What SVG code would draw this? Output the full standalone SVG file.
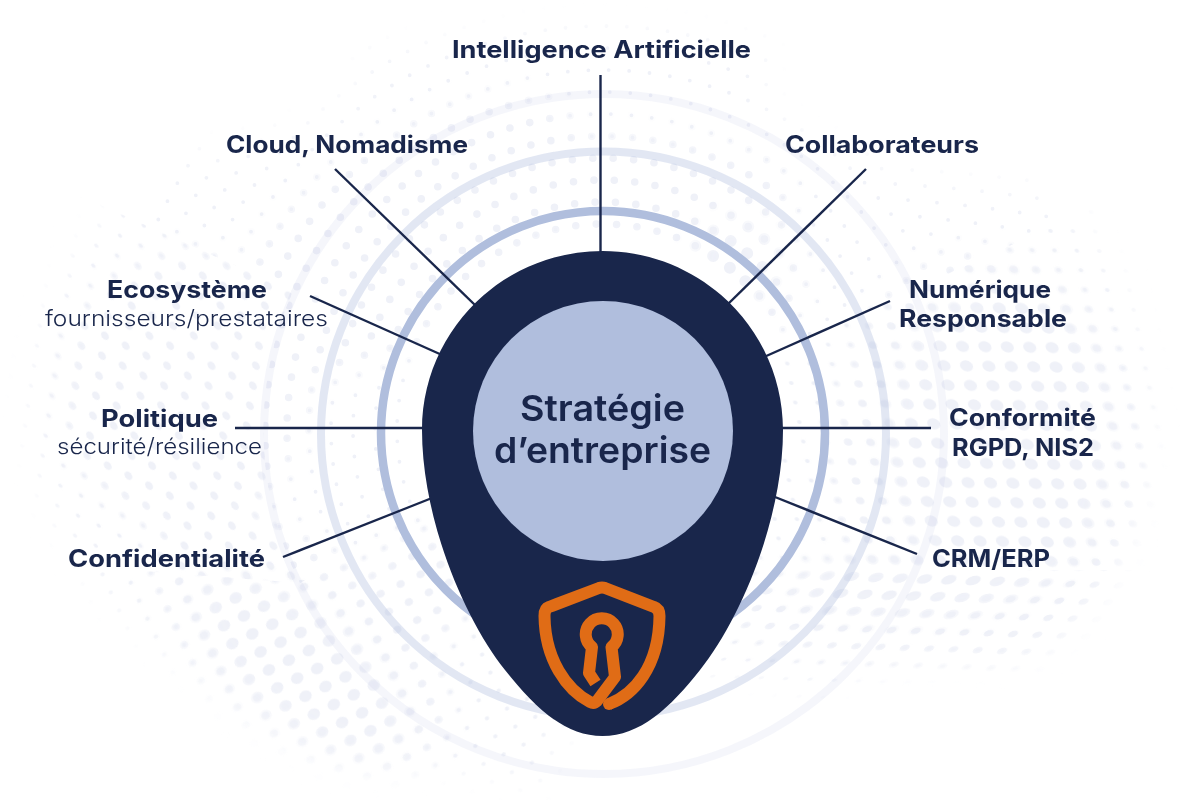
<svg xmlns="http://www.w3.org/2000/svg" width="1200" height="800" viewBox="0 0 1200 800">
<style>
.t{font-family:"Inter","Liberation Sans",sans-serif;fill:#19264b}
.b{font-size:24px;font-weight:700}
.r{font-size:22px;font-weight:300}
.h{font-size:36px;font-weight:600}
.ln{stroke:#19264b;stroke-width:2.4;fill:none}
.dr{fill:none;stroke:#eff1f8;stroke-linecap:round;stroke-dasharray:0 20.5}
.d{fill:#eff1f8}
</style>
<defs>
<pattern id="a" patternUnits="userSpaceOnUse" width="100" height="100" patternTransform="matrix(.224 .003 .04 .195 886.1 355.1)"/>
<pattern id="b" patternUnits="userSpaceOnUse" width="100" height="100" patternTransform="matrix(.207 .1 -.03 .2 72.45 330.7)"/>
<pattern id="c" patternUnits="userSpaceOnUse" width="100" height="100" patternTransform="matrix(.2 -.097 .083 .18 161.55 622.85)"/>
<pattern id="e" patternUnits="userSpaceOnUse" width="100" height="100" patternTransform="matrix(.243 .008 -.11 .17 807.35 549.1)"/>
<pattern id="as" href="#a"><circle class="d" cx="50" cy="50" r="10"/></pattern>
<pattern id="am" href="#a"><circle class="d" cx="50" cy="50" r="19"/></pattern>
<pattern id="al" href="#a"><circle class="d" cx="50" cy="50" r="29"/></pattern>
<pattern id="bs" href="#b"><circle class="d" cx="50" cy="50" r="10"/></pattern>
<pattern id="bm" href="#b"><circle class="d" cx="50" cy="50" r="19"/></pattern>
<pattern id="bl" href="#b"><circle class="d" cx="50" cy="50" r="29"/></pattern>
<pattern id="cs" href="#c"><circle class="d" cx="50" cy="50" r="10"/></pattern>
<pattern id="cm" href="#c"><circle class="d" cx="50" cy="50" r="19"/></pattern>
<pattern id="cl" href="#c"><circle class="d" cx="50" cy="50" r="29"/></pattern>
<pattern id="es" href="#e"><circle class="d" cx="50" cy="50" r="10"/></pattern>
<pattern id="em" href="#e"><circle class="d" cx="50" cy="50" r="19"/></pattern>
<pattern id="el" href="#e"><circle class="d" cx="50" cy="50" r="29"/></pattern>
<clipPath id="cRing"><polygon points="603,430 1100,205 1100,-50 0,-50 0,160"/><path d="M603 430L293 291A340 340 0 0 0 300 583Z"/></clipPath>
<clipPath id="cA"><polygon points="603,430 1100,205 1200,205 1200,570 603,570"/></clipPath>
<clipPath id="cB"><path d="M0 160L293 291A340 340 0 0 0 300 583L0 560Z"/></clipPath>
<clipPath id="cC"><polygon points="603,430 300,583 0,560 0,800 603,800"/></clipPath>
<clipPath id="cE"><polygon points="603,570 1200,570 1200,800 603,800"/></clipPath>
<filter id="bl1" x="-30%" y="-30%" width="160%" height="160%"><feGaussianBlur stdDeviation="14"/></filter>
<mask id="mS" maskUnits="userSpaceOnUse" x="0" y="0" width="1200" height="800">
<g filter="url(#bl1)"><ellipse cx="590" cy="405" rx="560" ry="375" fill="#fff"/><ellipse cx="1010" cy="760" rx="300" ry="115" fill="#000"/><ellipse cx="720" cy="790" rx="190" ry="130" fill="#000"/><ellipse cx="1050" cy="80" rx="300" ry="120" fill="#000"/><ellipse cx="120" cy="60" rx="260" ry="110" fill="#000"/></g>
</mask>
<mask id="mM" maskUnits="userSpaceOnUse" x="0" y="0" width="1200" height="800">
<g filter="url(#bl1)" fill="#fff"><ellipse cx="985" cy="455" rx="155" ry="205"/><ellipse cx="890" cy="610" rx="170" ry="50"/><ellipse cx="300" cy="640" rx="175" ry="90" transform="rotate(38 300 640)"/><ellipse cx="185" cy="390" rx="125" ry="140"/><ellipse cx="400" cy="240" rx="210" ry="95" transform="rotate(-35 400 240)"/><ellipse cx="620" cy="190" rx="170" ry="55"/><ellipse cx="730" cy="270" rx="75" ry="75"/><ellipse cx="420" cy="590" rx="50" ry="60"/></g>
</mask>
<mask id="mL" maskUnits="userSpaceOnUse" x="0" y="0" width="1200" height="800">
<g filter="url(#bl1)" fill="#fff"><ellipse cx="1000" cy="440" rx="110" ry="160"/><ellipse cx="900" cy="590" rx="110" ry="30"/><ellipse cx="300" cy="665" rx="125" ry="55" transform="rotate(38 300 665)"/><ellipse cx="735" cy="262" rx="42" ry="42"/></g>
</mask>
<g id="rg">
<circle cx="603" cy="430" r="206"/><circle cx="603" cy="430" r="228"/><circle cx="603" cy="430" r="250"/><circle cx="603" cy="430" r="272"/><circle cx="603" cy="430" r="294"/><circle cx="603" cy="430" r="316"/><circle cx="603" cy="430" r="338"/><circle cx="603" cy="430" r="360"/><circle cx="603" cy="430" r="382"/><circle cx="603" cy="430" r="404"/><circle cx="603" cy="430" r="426"/><circle cx="603" cy="430" r="448"/><circle cx="603" cy="430" r="470"/><circle cx="603" cy="430" r="492"/>
</g>
</defs>
<rect width="1200" height="800" fill="#fff"/>
<g id="halftone">
<g mask="url(#mS)">
<g class="dr" stroke-width="3.8" clip-path="url(#cRing)"><use href="#rg"/></g>
<rect width="1200" height="800" fill="url(#as)" clip-path="url(#cA)"/>
<rect width="1200" height="800" fill="url(#bs)" clip-path="url(#cB)"/>
<rect width="1200" height="800" fill="url(#cs)" clip-path="url(#cC)"/>
<rect width="1200" height="800" fill="url(#es)" clip-path="url(#cE)"/>
</g>
<g mask="url(#mM)">
<g class="dr" stroke-width="7.6" clip-path="url(#cRing)"><use href="#rg"/></g>
<rect width="1200" height="800" fill="url(#am)" clip-path="url(#cA)"/>
<rect width="1200" height="800" fill="url(#bm)" clip-path="url(#cB)"/>
<rect width="1200" height="800" fill="url(#cm)" clip-path="url(#cC)"/>
<rect width="1200" height="800" fill="url(#em)" clip-path="url(#cE)"/>
</g>
<g mask="url(#mL)">
<g class="dr" stroke-width="12" clip-path="url(#cRing)"><use href="#rg"/></g>
<rect width="1200" height="800" fill="url(#al)" clip-path="url(#cA)"/>
<rect width="1200" height="800" fill="url(#bl)" clip-path="url(#cB)"/>
<rect width="1200" height="800" fill="url(#cl)" clip-path="url(#cC)"/>
<rect width="1200" height="800" fill="url(#el)" clip-path="url(#cE)"/>
</g>
</g>
<g id="rings" fill="none" stroke-width="8">
<circle cx="604" cy="434" r="340" stroke="#aebcdd" stroke-opacity=".13"/>
<circle cx="603.5" cy="434" r="282.5" stroke="#aebcdd" stroke-opacity=".36"/>
<circle cx="603" cy="433" r="222" stroke="#b0bedd" stroke-width="8.5"/>
</g>
<g id="connectors">
<path class="ln" d="M600.5 75V255"/>
<path class="ln" d="M335 169L476 306"/>
<path class="ln" d="M866 169L727 305"/>
<path class="ln" d="M310 296L442 355"/>
<path class="ln" d="M890 301L764 357"/>
<path class="ln" d="M235 428H426"/>
<path class="ln" d="M931 428H780"/>
<path class="ln" d="M283 557L432 498"/>
<path class="ln" d="M917 554L775 497"/>
</g>
<g id="pin">
<path fill="#19264b" d="M602.5 251C503 251 422 331 422 430C422 520 465 620 505 670C535 708 565 736 602.5 736C640 736 670 708 700 670C740 620 783 520 783 430C783 331 702 251 602.5 251Z"/>
<circle cx="603" cy="431" r="130" fill="#b0bedd"/>
<text class="t h" x="520" y="421" textLength="165" lengthAdjust="spacingAndGlyphs">Stratégie</text>
<text class="t h" x="494" y="463" textLength="217" lengthAdjust="spacingAndGlyphs">d’entreprise</text>
</g>
<g id="shield" fill="none" stroke="#e06c16" stroke-width="12" stroke-linejoin="round">
<path d="M609 704C633 695 659 668 659.5 616C659.5 611 657 608 654 607L605 588Q602 587 599 588L549 607C546 608 544.5 611 544.5 616C545 660 567 690 590 702Q594 704 597 701L615 677L611.5 647A16 16 0 1 0 592 647L589 673L595.5 683"/>
<circle cx="609" cy="704" r="6" fill="#e06c16" stroke="none"/>
</g>
<g id="n-ia"><text class="t b" x="452" y="58" textLength="299" lengthAdjust="spacingAndGlyphs">Intelligence Artificielle</text></g>
<g id="n-cloud"><text class="t b" x="226" y="153" textLength="242" lengthAdjust="spacingAndGlyphs">Cloud, Nomadisme</text></g>
<g id="n-collab"><text class="t b" x="785" y="153" textLength="194" lengthAdjust="spacingAndGlyphs">Collaborateurs</text></g>
<g id="n-eco"><text class="t b" x="107" y="298" textLength="160" lengthAdjust="spacingAndGlyphs">Ecosystème</text><text class="t r" x="45" y="326" textLength="283" lengthAdjust="spacingAndGlyphs">fournisseurs/prestataires</text></g>
<g id="n-num"><text class="t b" x="909" y="298" textLength="142" lengthAdjust="spacingAndGlyphs">Numérique</text><text class="t b" x="899" y="327" textLength="168" lengthAdjust="spacingAndGlyphs">Responsable</text></g>
<g id="n-pol"><text class="t b" x="101" y="427" textLength="117" lengthAdjust="spacingAndGlyphs">Politique</text><text class="t r" x="57" y="454" textLength="205" lengthAdjust="spacingAndGlyphs">sécurité/résilience</text></g>
<g id="n-conf"><text class="t b" x="949" y="426" textLength="147" lengthAdjust="spacingAndGlyphs">Conformité</text><text class="t b" x="952" y="456" textLength="142" lengthAdjust="spacingAndGlyphs">RGPD, NIS2</text></g>
<g id="n-cdt"><text class="t b" x="68" y="567" textLength="197" lengthAdjust="spacingAndGlyphs">Confidentialité</text></g>
<g id="n-crm"><text class="t b" x="932" y="567" textLength="118" lengthAdjust="spacingAndGlyphs">CRM/ERP</text></g>
</svg>
